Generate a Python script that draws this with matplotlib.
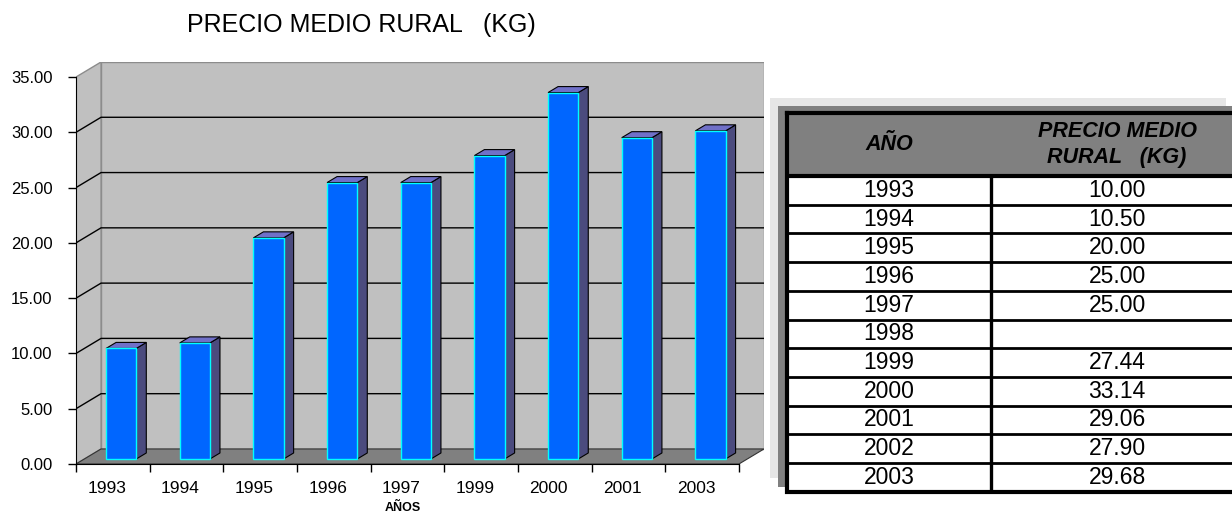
import matplotlib
matplotlib.use("Agg")
import matplotlib.pyplot as plt
from matplotlib.patches import Polygon, Rectangle
from matplotlib.transforms import ScaledTranslation

plt.rcParams['font.family'] = ['Liberation Sans', 'DejaVu Sans']

# bars in the chart (1998 and 2002 are left out of the plot)
chart_years = ['1993', '1994', '1995', '1996', '1997', '1999', '2000', '2001', '2003']
chart_prices = [10.00, 10.50, 20.00, 25.00, 25.00, 27.44, 33.14, 29.06, 29.68]

# side table
table_years = ['1993', '1994', '1995', '1996', '1997', '1998',
               '1999', '2000', '2001', '2002', '2003']
table_prices = ['10.00', '10.50', '20.00', '25.00', '25.00', '',
                '27.44', '33.14', '29.06', '27.90', '29.68']

y_ticks = [0, 5, 10, 15, 20, 25, 30, 35]

title = 'PRECIO MEDIO RURAL   (KG)'
x_label = 'AÑOS'
col_headers = ['AÑO', 'PRECIO MEDIO\nRURAL   (KG)']

# fake 3d: depth offset of the back wall, in data units
DX, DY = 0.34, 1.36
BAR_W = 0.41      # bar width (category units)
BAR_Z0 = 1 / 3    # depth where the bar front face sits
BAR_D = 0.4       # bar depth as fraction of the floor depth

WALL = '#c0c0c0'
FLOOR = '#808080'
FRONT = '#0066ff'
SIDE = '#4b4b7e'
TOP = '#7070c8'

W, H = 1232, 517
fig = plt.figure(figsize=(W / 100, H / 100), dpi=100)

n = len(chart_years)
ymax = y_ticks[-1]
ax = fig.add_axes([76 / W, 53 / H, 688 / W, 402 / H])
ax.set_xlim(0, n + DX)
ax.set_ylim(0, ymax + DY)
ax.patch.set_visible(False)

# walls and floor
ax.add_patch(Polygon([(DX, DY), (n + DX, DY), (n + DX, ymax + DY), (DX, ymax + DY)],
                     closed=True, fc=WALL, ec='#8c8c8c', lw=1, zorder=0))
ax.add_patch(Polygon([(0, 0), (DX, DY), (DX, ymax + DY), (0, ymax)],
                     closed=True, fc=WALL, ec='#8c8c8c', lw=1, zorder=0))
ax.add_patch(Polygon([(0, 0), (n, 0), (n + DX, DY), (DX, DY)],
                     closed=True, fc=FLOOR, ec='#333333', lw=0.8, zorder=1))

# gridlines on the back and left walls
for v in y_ticks[1:-1]:
    ax.plot([0, DX, n + DX], [v, v + DY, v + DY], color='black', lw=1, zorder=1)

# bars
dx, dy = DX * BAR_D, DY * BAR_D
for i, v in enumerate(chart_prices):
    x0 = i + 0.5 - BAR_W / 2 + DX * BAR_Z0
    y0 = DY * BAR_Z0
    x1 = x0 + BAR_W
    ax.add_patch(Polygon([(x1, y0), (x1 + dx, y0 + dy), (x1 + dx, y0 + v + dy), (x1, y0 + v)],
                         closed=True, fc=SIDE, ec='black', lw=0.8, zorder=3))
    ax.add_patch(Polygon([(x0, y0 + v), (x1, y0 + v), (x1 + dx, y0 + v + dy), (x0 + dx, y0 + v + dy)],
                         closed=True, fc=TOP, ec='black', lw=0.8, zorder=3))
    ax.add_patch(Rectangle((x0, y0), BAR_W, v, fc=FRONT, ec='#00ffff', lw=1, zorder=4))

# axes
for s in ['top', 'right']:
    ax.spines[s].set_visible(False)
ax.spines['left'].set_bounds(0, ymax)
ax.spines['bottom'].set_bounds(0, n)
ax.spines['bottom'].set_zorder(5)

ax.set_yticks(y_ticks)
ax.set_yticklabels(['{:.2f}'.format(v) for v in y_ticks])
ax.tick_params(axis='y', direction='out', length=6, width=1, pad=11, labelsize=12)

ax.set_xticks(range(n + 1))
ax.set_xticklabels([])
ax.set_xticks([i + 0.5 for i in range(n)], minor=True)
ax.set_xticklabels(chart_years, minor=True)
ax.tick_params(axis='x', which='major', direction='out', length=6, width=1)
ax.tick_params(axis='x', which='minor', length=0, pad=12, labelsize=12.5)
# category labels sit a little left of the slot centre
shift = ScaledTranslation(-6 / 100, 0, fig.dpi_scale_trans)
for lab in ax.xaxis.get_minorticklabels():
    lab.set_transform(lab.get_transform() + shift)

ax.text(n / 2 - 0.06, -4.0, x_label, ha='center', va='center',
        fontsize=9, fontweight='bold')

# overlay in pixel coordinates for the title and the table
tax = fig.add_axes([0, 0, 1, 1])
tax.set_xlim(0, W)
tax.set_ylim(H, 0)
tax.axis('off')

tax.text(361, 25, title, ha='center', va='center', fontsize=18)

T_LEFT, T_RIGHT = 787, 1243
T_TOP, HDR_BOT = 113, 176
ROW_H = 28.7
COL_X = 991
T_BOT = HDR_BOT + ROW_H * len(table_years)

# shadow panels behind the table
tax.add_patch(Rectangle((770, 98), 1226 - 770, 478 - 98, fc='#e6e6e6', ec='none'))
tax.add_patch(Rectangle((778, 106), 1260 - 778, 487 - 106, fc='#808080', ec='none'))

# header and body
tax.add_patch(Rectangle((T_LEFT, T_TOP), T_RIGHT - T_LEFT, HDR_BOT - T_TOP,
                        fc='#808080', ec='none'))
tax.add_patch(Rectangle((T_LEFT, HDR_BOT), T_RIGHT - T_LEFT, T_BOT - HDR_BOT,
                        fc='white', ec='none'))

for i in range(1, len(table_years)):
    y = HDR_BOT + i * ROW_H
    tax.plot([T_LEFT, T_RIGHT], [y, y], color='black', lw=2.0, solid_capstyle='butt')
tax.plot([T_LEFT, T_RIGHT], [HDR_BOT, HDR_BOT], color='black', lw=3.0, solid_capstyle='butt')
tax.plot([COL_X, COL_X], [HDR_BOT, T_BOT], color='black', lw=2.4, solid_capstyle='butt')
tax.plot([T_LEFT, T_RIGHT, T_RIGHT, T_LEFT, T_LEFT],
         [T_TOP, T_TOP, T_BOT, T_BOT, T_TOP], color='black', lw=3.0,
         solid_joinstyle='miter')

xc_year = (T_LEFT + COL_X) / 2
xc_val = (COL_X + T_RIGHT) / 2
yc_hdr = (T_TOP + HDR_BOT) / 2
tax.text(xc_year, yc_hdr, col_headers[0], ha='center', va='center',
         fontsize=15.5, fontweight='bold', fontstyle='italic')
tax.text(xc_val, yc_hdr, col_headers[1], ha='center', va='center', ma='center',
         fontsize=15.5, fontweight='bold', fontstyle='italic', linespacing=1.3)

for i, (yr, pr) in enumerate(zip(table_years, table_prices)):
    yc = HDR_BOT + (i + 0.5) * ROW_H
    tax.text(xc_year, yc, yr, ha='center', va='center', fontsize=16.5)
    tax.text(xc_val, yc, pr, ha='center', va='center', fontsize=16.5)

fig.savefig('out.png', dpi=100)
